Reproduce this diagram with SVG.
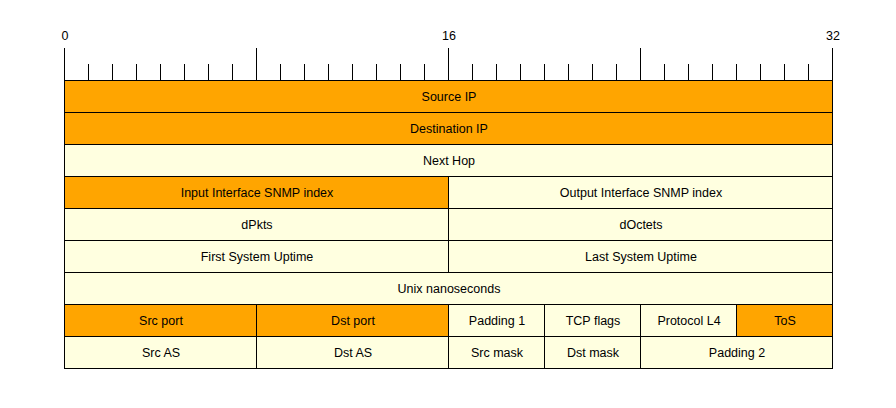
<svg xmlns="http://www.w3.org/2000/svg" width="896" height="408" viewBox="0 0 896 408">
<style>
.o{fill:#ffa500;stroke:#000;stroke-width:1}
.c{fill:#ffffe0;stroke:#000;stroke-width:1}
text{font-family:"Liberation Sans",Arial,sans-serif;font-size:12.5px;fill:#000;text-anchor:middle}
.t{stroke:#000;stroke-width:1}
</style>
<rect width="896" height="408" fill="#fff"/>
<g id="ruler">
<text x="65" y="40">0</text><text x="449" y="40">16</text><text x="833" y="40">32</text>
<path class="t" d="M64.5 48V80M256.5 48V80M448.5 48V80M640.5 48V80M832.5 48V80
M88.5 64V80M112.5 64V80M136.5 64V80M160.5 64V80M184.5 64V80M208.5 64V80M232.5 64V80
M280.5 64V80M304.5 64V80M328.5 64V80M352.5 64V80M376.5 64V80M400.5 64V80M424.5 64V80
M472.5 64V80M496.5 64V80M520.5 64V80M544.5 64V80M568.5 64V80M592.5 64V80M616.5 64V80
M664.5 64V80M688.5 64V80M712.5 64V80M736.5 64V80M760.5 64V80M784.5 64V80M808.5 64V80"/>
</g>
<g id="f-srcip"><rect class="o" x="64.5" y="80.5" width="768" height="32"/><text x="449" y="101">Source IP</text></g>
<g id="f-dstip"><rect class="o" x="64.5" y="112.5" width="768" height="32"/><text x="449" y="133">Destination IP</text></g>
<g id="f-nexthop"><rect class="c" x="64.5" y="144.5" width="768" height="32"/><text x="449" y="165">Next Hop</text></g>
<g id="f-input"><rect class="o" x="64.5" y="176.5" width="384" height="32"/><text x="257" y="197">Input Interface SNMP index</text></g>
<g id="f-output"><rect class="c" x="448.5" y="176.5" width="384" height="32"/><text x="641" y="197">Output Interface SNMP index</text></g>
<g id="f-dpkts"><rect class="c" x="64.5" y="208.5" width="384" height="32"/><text x="257" y="229">dPkts</text></g>
<g id="f-doctets"><rect class="c" x="448.5" y="208.5" width="384" height="32"/><text x="641" y="229">dOctets</text></g>
<g id="f-first"><rect class="c" x="64.5" y="240.5" width="384" height="32"/><text x="257" y="261">First System Uptime</text></g>
<g id="f-last"><rect class="c" x="448.5" y="240.5" width="384" height="32"/><text x="641" y="261">Last System Uptime</text></g>
<g id="f-unix"><rect class="c" x="64.5" y="272.5" width="768" height="32"/><text x="449" y="293">Unix nanoseconds</text></g>
<g id="f-srcport"><rect class="o" x="64.5" y="304.5" width="192" height="32"/><text x="161" y="325">Src port</text></g>
<g id="f-dstport"><rect class="o" x="256.5" y="304.5" width="192" height="32"/><text x="353" y="325">Dst port</text></g>
<g id="f-pad1"><rect class="c" x="448.5" y="304.5" width="96" height="32"/><text x="497" y="325">Padding 1</text></g>
<g id="f-tcp"><rect class="c" x="544.5" y="304.5" width="96" height="32"/><text x="593" y="325">TCP flags</text></g>
<g id="f-proto"><rect class="c" x="640.5" y="304.5" width="96" height="32"/><text x="689" y="325">Protocol L4</text></g>
<g id="f-tos"><rect class="o" x="736.5" y="304.5" width="96" height="32"/><text x="785" y="325">ToS</text></g>
<g id="f-srcas"><rect class="c" x="64.5" y="336.5" width="192" height="32"/><text x="161" y="357">Src AS</text></g>
<g id="f-dstas"><rect class="c" x="256.5" y="336.5" width="192" height="32"/><text x="353" y="357">Dst AS</text></g>
<g id="f-srcmask"><rect class="c" x="448.5" y="336.5" width="96" height="32"/><text x="497" y="357">Src mask</text></g>
<g id="f-dstmask"><rect class="c" x="544.5" y="336.5" width="96" height="32"/><text x="593" y="357">Dst mask</text></g>
<g id="f-pad2"><rect class="c" x="640.5" y="336.5" width="192" height="32"/><text x="737" y="357">Padding 2</text></g>
<g id="connectors"/>
</svg>
